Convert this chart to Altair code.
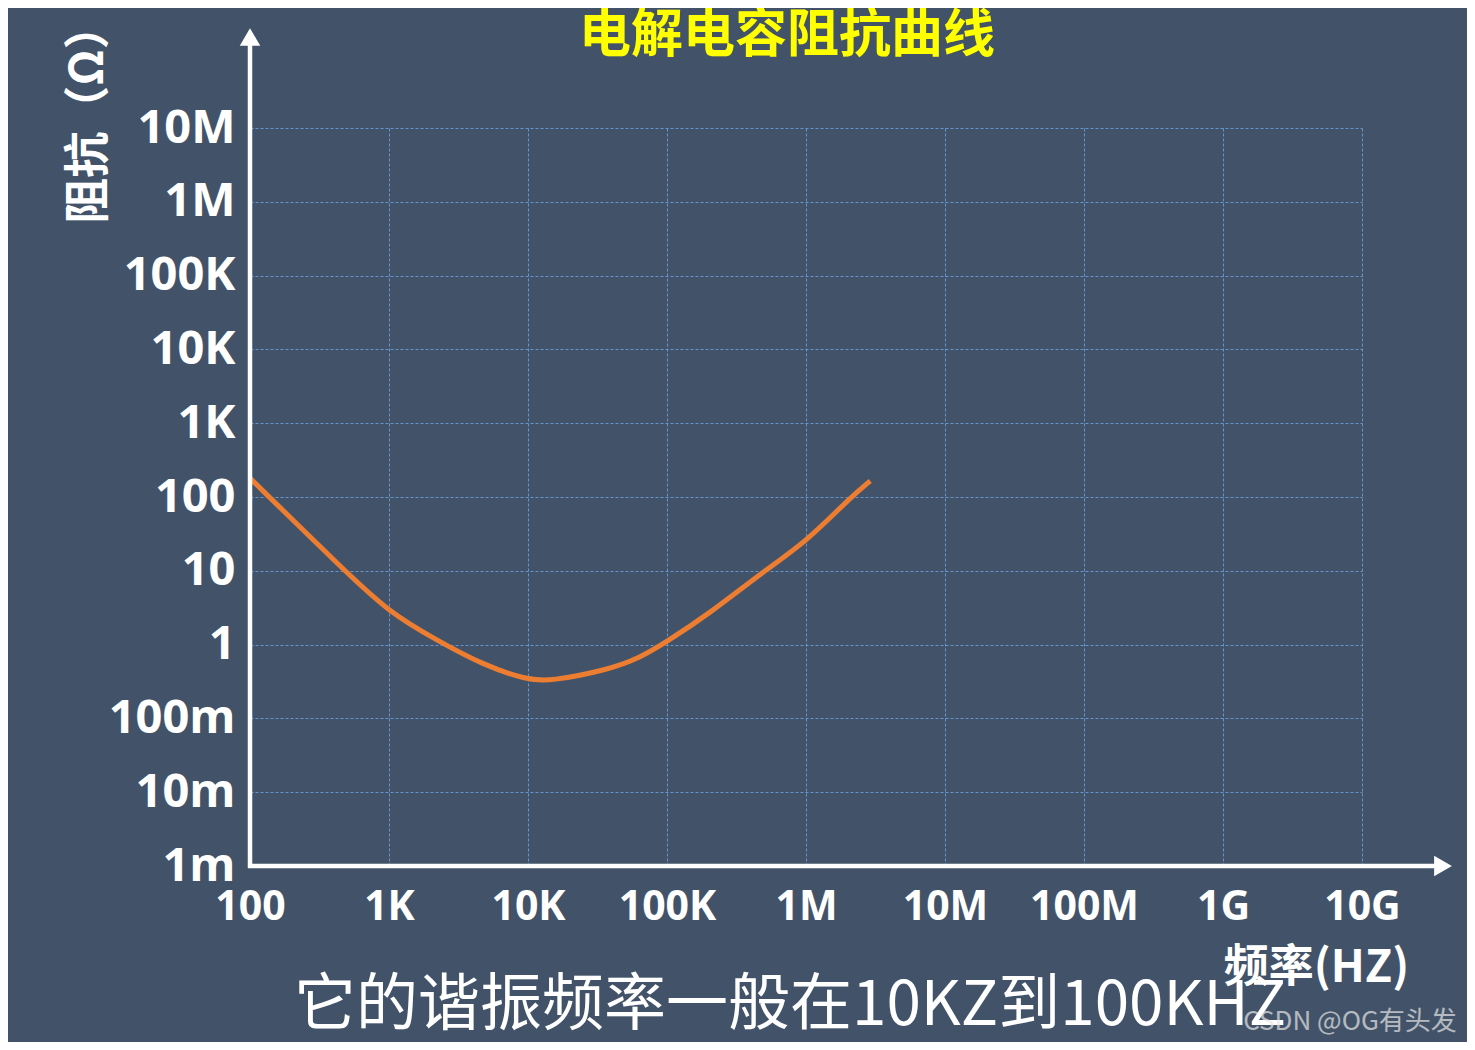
import altair as alt
import pandas as pd

# ---- data ----
freq = [100, 480, 1000, 2200, 4750, 10000, 14400, 36800, 64000,
        100000, 200000, 500000, 1000000, 2100000, 2900000]
impedance = [180, 10, 2.75, 1.15, 0.53, 0.33, 0.32, 0.45, 0.66,
             1.1, 2.6, 10, 24.5, 100, 165]

x_ticks = [1e2, 1e3, 1e4, 1e5, 1e6, 1e7, 1e8, 1e9, 1e10]
x_labels = ["100", "1K", "10K", "100K", "1M", "10M", "100M", "1G", "10G"]
y_ticks = [1e-3, 1e-2, 1e-1, 1e0, 1e1, 1e2, 1e3, 1e4, 1e5, 1e6, 1e7]
y_labels = ["1m", "10m", "100m", "1", "10", "100", "1K", "10K", "100K", "1M", "10M"]

title_text = "电解电容阻抗曲线"
x_title = "频率(HZ)"
y_title = "阻抗（Ω）"
note_text = "它的谐振频率一般在10KZ到100KHZ"
watermark_text = "CSDN @OG有头发"

# ---- styling ----
BG = "#425369"
GRID = "#6a9bd6"
ORANGE = "#ED7D31"
CJK = "Noto Sans CJK SC"
LAT = "Open Sans"
W, H = 1112, 738

df = pd.DataFrame({"f": freq, "z": impedance})


def label_expr(labels, shift):
    arr = "[" + ",".join("'" + l + "'" for l in labels) + "]"
    return arr + "[round(log(datum.value)/LN10) + " + str(shift) + "]"


x_axis = alt.Axis(
    values=x_ticks, labelExpr=label_expr(x_labels, -2),
    title=x_title, titleX=1066, titleY=101, titleAlign="center", titleBaseline="middle",
    titleFont=CJK, titleFontSize=45, titleFontWeight="bold", titleColor="white",
    labelFont=LAT, labelFontSize=41, labelFontWeight="bold", labelColor="white",
    labelPadding=21, labelFlush=False, labelOverlap=False, labelBound=False,
    domain=False, ticks=False,
    grid=True, gridColor=GRID, gridDash=[3, 2], gridWidth=1, gridOpacity=0.9,
)
y_axis = alt.Axis(
    values=y_ticks, labelExpr=label_expr(y_labels, 3),
    title=y_title, titleX=-162, titleY=-15, titleAngle=270, titleAlign="center",
    titleBaseline="middle",
    titleFont=CJK, titleFontSize=46, titleFontWeight="bold", titleColor="white",
    labelFont=LAT, labelFontSize=47, labelFontWeight="bold", labelColor="white",
    labelPadding=15, labelFlush=False, labelOverlap=False, labelBound=False,
    labelBaseline="middle",
    domain=False, ticks=False,
    grid=True, gridColor=GRID, gridDash=[3, 2], gridWidth=1, gridOpacity=0.9,
)

curve = alt.Chart(df).mark_line(
    color=ORANGE, strokeWidth=5, interpolate="basis", clip=False
).encode(
    x=alt.X("f:Q", scale=alt.Scale(type="log", domain=[1e2, 1e10], nice=False), axis=x_axis),
    y=alt.Y("z:Q", scale=alt.Scale(type="log", domain=[1e-3, 1e7], nice=False), axis=y_axis),
)

one = pd.DataFrame({"k": [0]})
x_line = alt.Chart(one).mark_rule(color="white", strokeWidth=4.5).encode(
    x=alt.value(-2), x2=alt.value(1193), y=alt.value(H)
)
y_line = alt.Chart(one).mark_rule(color="white", strokeWidth=4.5).encode(
    x=alt.value(0), y=alt.value(H + 2), y2=alt.value(-91)
)
up_arrow = alt.Chart(one).mark_point(
    shape="triangle-up", filled=True, size=420, color="white", opacity=1
).encode(x=alt.value(0), y=alt.value(-91))
right_arrow = alt.Chart(one).mark_point(
    shape="triangle-right", filled=True, size=420, color="white", opacity=1
).encode(x=alt.value(1193), y=alt.value(H))

title = alt.Chart(one).mark_text(
    text=title_text, font=CJK, fontSize=52, fontWeight="bold", color="#FFFF00",
    align="center", baseline="middle"
).encode(x=alt.value(537), y=alt.value(-92))
note = alt.Chart(one).mark_text(
    text=note_text, font=CJK, fontSize=62, color="white", align="center", baseline="middle"
).encode(x=alt.value(540), y=alt.value(878))
mark_wm = alt.Chart(one).mark_text(
    text=watermark_text, font=CJK, fontSize=26, color="#e6e6e6", opacity=0.7,
    align="center", baseline="middle"
).encode(x=alt.value(1100), y=alt.value(894))

chart = alt.layer(curve, x_line, y_line, up_arrow, right_arrow, title, note, mark_wm).properties(
    width=W, height=H,
    padding={"left": 242, "top": 120, "right": 105, "bottom": 176},
    autosize=alt.AutoSizeParams(type="none"),
).configure(background=BG).configure_view(strokeOpacity=0)

chart.save("out.html", embed_options={"renderer": "svg", "actions": False})
